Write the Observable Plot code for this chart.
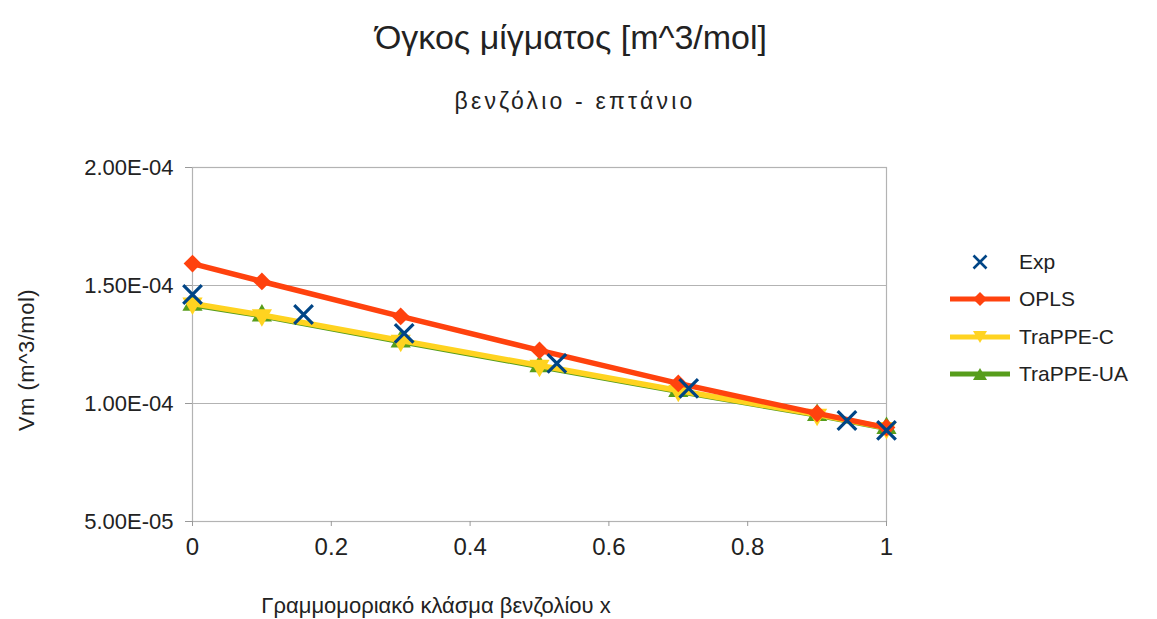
<!DOCTYPE html>
<html><head><meta charset="utf-8">
<script src="https://cdn.jsdelivr.net/npm/d3@7"></script>
<script src="https://cdn.jsdelivr.net/npm/@observablehq/plot@0.6"></script>
<style>
body{margin:0;background:#fff;font-family:"Liberation Sans",Arial,sans-serif;color:#222;}
#wrap{position:relative;width:1157px;height:619px;overflow:hidden;}
#wrap svg.plot{position:absolute;left:0;top:0;}
.t{position:absolute;white-space:nowrap;line-height:1;}
#title{left:571px;top:37px;font-size:34px;transform:translate(-50%,-50%);}
#subtitle{left:575px;top:101px;font-size:23px;letter-spacing:3.2px;transform:translate(-50%,-50%);}
#xlabel{left:436px;top:606px;font-size:22px;transform:translate(-50%,-50%);}
#ylabel{left:27px;top:360px;font-size:22px;letter-spacing:0.5px;transform:translate(-50%,-50%) rotate(-90deg);}
#legend{position:absolute;left:950px;top:243px;font-size:21px;}
.lg{display:flex;align-items:center;height:37.5px;}
.lg svg{margin-right:7px;}
</style></head><body>
<div id="wrap">
<div class="t" id="title">Όγκος μίγματος [m^3/mol]</div>
<div class="t" id="subtitle">βενζόλιο - επτάνιο</div>
<div class="t" id="xlabel">Γραμμομοριακό κλάσμα βενζολίου x</div>
<div class="t" id="ylabel">Vm (m^3/mol)</div>
<div id="legend"></div>
</div>
<script>
// ---- data ----
const seriesNames = ["Exp", "OPLS", "TraPPE-C", "TraPPE-UA"];
const seriesColors = ["#004586", "#ff420e", "#ffd320", "#579d1c"];
const expX = [0, 0.16, 0.305, 0.525, 0.715, 0.943, 1];
const expV = [1.462e-4, 1.377e-4, 1.297e-4, 1.170e-4, 1.064e-4, 0.928e-4, 0.886e-4];
const simX = [0, 0.1, 0.3, 0.5, 0.7, 0.9, 1];
const oplsV = [1.593e-4, 1.517e-4, 1.369e-4, 1.225e-4, 1.085e-4, 0.958e-4, 0.898e-4];
const trappeCV = [1.424e-4, 1.375e-4, 1.267e-4, 1.161e-4, 1.055e-4, 0.953e-4, 0.897e-4];
const trappeUAV = [1.418e-4, 1.372e-4, 1.262e-4, 1.157e-4, 1.052e-4, 0.951e-4, 0.895e-4];
const xTicks = [0, 0.2, 0.4, 0.6, 0.8, 1];
const xTickLabels = ["0", "0.2", "0.4", "0.6", "0.8", "1"];
const yTicks = [5e-5, 1e-4, 1.5e-4, 2e-4];
const yTickLabels = ["5.00E-05", "1.00E-04", "1.50E-04", "2.00E-04"];

const exp = expX.map((x, i) => ({x, v: expV[i]}));
const opls = simX.map((x, i) => ({x, v: oplsV[i]}));
const trC = simX.map((x, i) => ({x, v: trappeCV[i]}));
const trUA = simX.map((x, i) => ({x, v: trappeUAV[i]}));

const triDown = {draw(ctx, size){
  const a = Math.sqrt(4 * size / Math.sqrt(3)), h = Math.sqrt(3) / 2 * a;
  ctx.moveTo(0, 2 * h / 3); ctx.lineTo(a / 2, -h / 3); ctx.lineTo(-a / 2, -h / 3); ctx.closePath();
}};
const triUp = {draw(ctx, size){
  const a = Math.sqrt(4 * size / Math.sqrt(3)), h = Math.sqrt(3) / 2 * a;
  ctx.moveTo(0, -2 * h / 3); ctx.lineTo(a / 2, h / 3); ctx.lineTo(-a / 2, h / 3); ctx.closePath();
}};

const [cExp, cOpls, cC, cUA] = seriesColors;
const chart = Plot.plot({
  width: 1157, height: 619,
  marginLeft: 192, marginRight: 271, marginTop: 167, marginBottom: 98,
  style: {fontFamily: '"Liberation Sans", Arial, sans-serif', fontSize: "22px", color: "#222", background: "transparent"},
  x: {domain: [0, 1]},
  y: {domain: [5e-5, 2e-4]},
  marks: [
    Plot.gridY(yTicks, {stroke: "#b3b3b3", strokeOpacity: 1, strokeWidth: 1.2}),
    Plot.frame({stroke: "#b3b3b3", strokeWidth: 1.2}),
    Plot.axisY({ticks: yTicks, tickFormat: d => yTickLabels[yTicks.indexOf(d)], tickSize: 7, tickPadding: 12, label: null, stroke: "#999", fontSize: 22}),
    Plot.axisX({ticks: xTicks, tickFormat: d => xTickLabels[xTicks.indexOf(d)], tickSize: 5, tickPadding: 11, label: null, stroke: "#999", fontSize: 24}),
    Plot.line(trUA, {x: "x", y: "v", stroke: cUA, strokeWidth: 5.5}),
    Plot.dot(trUA, {x: "x", y: "v", fill: cUA, symbol: triUp, r: 7.5}),
    Plot.line(trC, {x: "x", y: "v", stroke: cC, strokeWidth: 5.5}),
    Plot.dot(trC, {x: "x", y: "v", fill: cC, symbol: triDown, r: 7.5}),
    Plot.line(opls, {x: "x", y: "v", stroke: cOpls, strokeWidth: 5.5}),
    Plot.dot(opls, {x: "x", y: "v", fill: cOpls, symbol: "diamond2", r: 8}),
    Plot.dot(exp, {x: "x", y: "v", stroke: cExp, symbol: "times", r: 8.5, strokeWidth: 3.2})
  ]
});
chart.classList.add("plot");
document.getElementById("wrap").prepend(chart);

// legend
const legend = document.getElementById("legend");
const shapes = [
  `<path d="M30,12 l-6.5,-6.5 M30,12 l6.5,6.5 M30,12 l6.5,-6.5 M30,12 l-6.5,6.5" stroke="${cExp}" stroke-width="2.6"/>`,
  `<line x1="0" x2="60" y1="12" y2="12" stroke="${cOpls}" stroke-width="5"/><path d="M30,5 l7,7 l-7,7 l-7,-7z" fill="${cOpls}"/>`,
  `<line x1="0" x2="60" y1="12" y2="12" stroke="${cC}" stroke-width="5"/><path d="M23,6 h14 l-7,12z" fill="${cC}"/>`,
  `<line x1="0" x2="60" y1="12" y2="12" stroke="${cUA}" stroke-width="5"/><path d="M23,18 h14 l-7,-12z" fill="${cUA}"/>`
];
seriesNames.forEach((n, i) => {
  const row = document.createElement("div");
  row.className = "lg";
  row.innerHTML = `<svg width="62" height="24">${shapes[i]}</svg><span>${n}</span>`;
  legend.appendChild(row);
});
</script>
</body></html>
